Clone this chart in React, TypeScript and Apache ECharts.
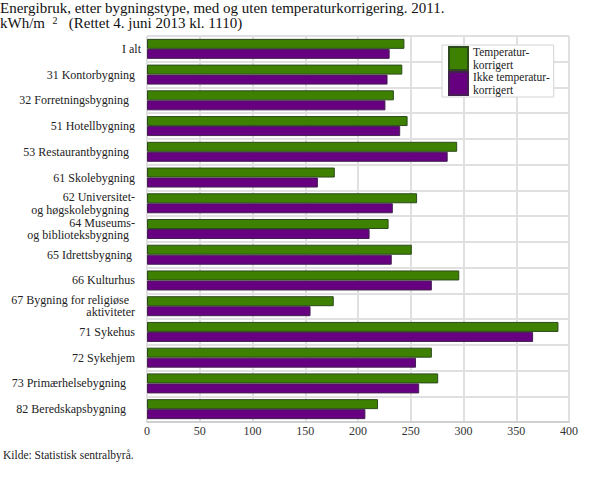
import React, { useEffect, useRef } from "react";
import * as echarts from "echarts";

const titleLine1 = "Energibruk, etter bygningstype, med og uten temperaturkorrigering. 2011.";
const unitText = "kWh/m";
const unitSup = "2";
const titleNote = "(Rettet 4. juni 2013 kl. 1110)";
const sourceText = "Kilde: Statistisk sentralbyrå.";

const categories = [
  "I alt",
  "31 Kontorbygning\u00a0\u00a0",
  "32 Forretningsbygning\u00a0\u00a0\u00a0\u00a0",
  "51 Hotellbygning\u00a0\u00a0",
  "53 Restaurantbygning\u00a0\u00a0\u00a0\u00a0",
  "61 Skolebygning\u00a0\u00a0",
  "62 Universitet-\u00a0\u00a0\nog høgskolebygning\u00a0\u00a0\u00a0\u00a0",
  "64 Museums-\u00a0\u00a0\nog biblioteksbygning\u00a0\u00a0\u00a0\u00a0",
  "65 Idrettsbygning\u00a0\u00a0\u00a0",
  "66 Kulturhus\u00a0\u00a0",
  "67 Bygning for religiøse\u00a0\u00a0\u00a0\u00a0\naktiviteter\u00a0\u00a0",
  "71 Sykehus\u00a0\u00a0",
  "72 Sykehjem\u00a0\u00a0",
  "73 Primærhelsebygning\u00a0\u00a0\u00a0\u00a0\u00a0",
  "82 Beredskapsbygning\u00a0\u00a0\u00a0\u00a0\u00a0",
];

const seriesNames = ["Temperatur-\nkorrigert", "Ikke temperatur-\nkorrigert"];
const corrected = [244, 242, 234, 247, 294, 178, 256, 229, 251, 296, 177, 390, 270, 276, 219];
const uncorrected = [230, 228, 226, 240, 285, 162, 233, 211, 232, 270, 155, 366, 255, 258, 207];

const axisMin = 0;
const axisMax = 400;
const axisStep = 50;

const SERIF = "Liberation Serif";
const FONT = { fontFamily: SERIF, fontWeight: "normal", fontStyle: "normal" };

const richLines = (s: string, key: string) =>
  String(s)
    .split("\n")
    .map((l) => `{${key}|${l}}`)
    .join("\n");

export default function App() {
  const ref = useRef<HTMLDivElement>(null);
  useEffect(() => {
    if (!ref.current) return;
    const chart = echarts.init(ref.current, undefined, { renderer: "svg" });
    const NB = "\u00a0";
    chart.setOption({
      animation: false,
      backgroundColor: "#ffffff",
      textStyle: { ...FONT },
      title: {
        left: 0,
        top: 0,
        padding: 0,
        text: `{a|${titleLine1}}\n{a|${unitText}${NB}${NB}}{s|${unitSup}}{a|${NB}${NB}${NB}${titleNote}}`,
        textStyle: {
          ...FONT,
          rich: {
            a: { fontSize: 15, lineHeight: 15, color: "#111", ...FONT },
            s: { fontSize: 10, lineHeight: 15, color: "#111", ...FONT, verticalAlign: "top", padding: [0, 0, 5, 0] },
          },
        },
      },
      graphic: [
        {
          type: "text",
          left: 3,
          top: 449,
          style: {
            text: sourceText,
            fontSize: 11.5,
            ...FONT,
            fill: "#222",
          },
        },
      ],
      legend: {
        orient: "vertical",
        left: 442,
        top: 45,
        padding: [1, 4, 1, 6],
        itemGap: 0,
        itemWidth: 19,
        itemHeight: 23,
        icon: "rect",
        backgroundColor: "#ffffff",
        borderColor: "#d4d4d4",
        borderWidth: 1,
        formatter: (name: string) => richLines(name, "l"),
        textStyle: {
          fontSize: 11.5,
          lineHeight: 12.5,
          color: "#222",
          ...FONT,
          rich: { l: { fontSize: 11.5, lineHeight: 12.5, color: "#222", ...FONT } },
        },
        data: seriesNames,
      },
      grid: { left: 147, right: 41, top: 36, bottom: 66, containLabel: false },
      xAxis: {
        type: "value",
        min: axisMin,
        max: axisMax,
        interval: axisStep,
        axisLine: { show: true, lineStyle: { color: "#d0d0d0", width: 2 } },
        axisTick: { show: false },
        axisLabel: {
          margin: 3,
          color: "#333",
          fontSize: 12,
          ...FONT,
        },
        splitLine: { show: true, lineStyle: { color: "#e0e0e0", width: 2 } },
      },
      yAxis: {
        type: "category",
        inverse: true,
        data: categories,
        axisLine: { show: false },
        axisTick: { show: false },
        axisLabel: {
          margin: 6,
          color: "#222",
          fontSize: 12,
          lineHeight: 12.5,
          ...FONT,
        },
        splitLine: { show: true, lineStyle: { color: "#e0e0e0", width: 2 } },
      },
      series: [
        {
          name: seriesNames[0],
          type: "bar",
          data: corrected,
          barWidth: 10,
          barGap: "0%",
          itemStyle: { color: "#3e8000", borderColor: "#2c4a1c", borderWidth: 1 },
        },
        {
          name: seriesNames[1],
          type: "bar",
          data: uncorrected,
          barWidth: 10,
          barGap: "0%",
          itemStyle: { color: "#660080", borderColor: "#43204f", borderWidth: 1 },
        },
      ],
    });
    return () => chart.dispose();
  }, []);
  return (
    <div
      ref={ref}
      style={{ position: "fixed", left: 0, top: 0, width: 610, height: 488 }}
    />
  );
}
